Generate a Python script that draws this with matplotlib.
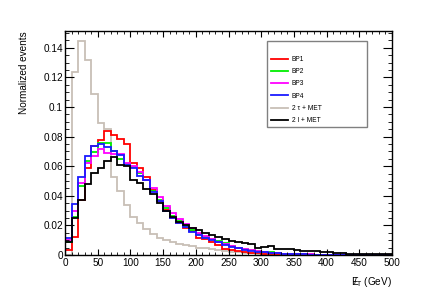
"""
MET distribution for the benchmark points and the two backgrounds,
normalized histograms in 10 GeV bins (ROOT-like style).
"""
import numpy as np
import matplotlib
matplotlib.use("Agg")
import matplotlib.pyplot as plt
from matplotlib.lines import Line2D
from matplotlib.patches import Rectangle
from matplotlib.ticker import MultipleLocator, FormatStrFormatter

plt.rcParams["font.family"] = ["Liberation Sans", "DejaVu Sans"]
plt.rcParams["mathtext.fontset"] = "custom"
plt.rcParams["mathtext.rm"] = "Liberation Sans"
plt.rcParams["mathtext.it"] = "Liberation Sans"

# bin edges, 0-500 GeV in 10 GeV steps
edges = np.arange(0, 510, 10)

bp1 = [0.0035, 0.0125, 0.0372, 0.0585, 0.0735, 0.0775, 0.0840, 0.0810, 0.0782, 0.0752,
       0.0622, 0.0588, 0.0528, 0.0440, 0.0365, 0.0305, 0.0250, 0.0218, 0.0185, 0.0160,
       0.0118, 0.0105, 0.0088, 0.0068, 0.0042, 0.0034, 0.0026, 0.0020, 0.0016, 0.0012,
       0.0010, 0.0008, 0.0006, 0.0005, 0.0004, 0.0003, 0.0003, 0.0002, 0.0002, 0.0002,
       0.0001, 0.0001, 0.0001, 0.0001, 0.0001, 0.0001, 0.0001, 0.0, 0.0, 0.0]
bp2 = [0.0085, 0.0255, 0.0467, 0.0635, 0.0698, 0.0757, 0.0760, 0.0700, 0.0650, 0.0618,
       0.0595, 0.0555, 0.0505, 0.0430, 0.0375, 0.0320, 0.0265, 0.0228, 0.0198, 0.0170,
       0.0140, 0.0122, 0.0108, 0.0092, 0.0080, 0.0060, 0.0050, 0.0042, 0.0034, 0.0027,
       0.0021, 0.0017, 0.0013, 0.0010, 0.0008, 0.0006, 0.0005, 0.0004, 0.0003, 0.0003,
       0.0002, 0.0002, 0.0001, 0.0001, 0.0001, 0.0001, 0.0001, 0.0, 0.0, 0.0]
bp3 = [0.0100, 0.0300, 0.0484, 0.0620, 0.0668, 0.0714, 0.0690, 0.0682, 0.0680, 0.0622,
       0.0600, 0.0560, 0.0510, 0.0450, 0.0390, 0.0330, 0.0282, 0.0240, 0.0210, 0.0180,
       0.0150, 0.0128, 0.0108, 0.0088, 0.0072, 0.0060, 0.0048, 0.0040, 0.0032, 0.0025,
       0.0020, 0.0016, 0.0012, 0.0009, 0.0007, 0.0006, 0.0005, 0.0004, 0.0003, 0.0002,
       0.0002, 0.0002, 0.0001, 0.0001, 0.0001, 0.0001, 0.0, 0.0, 0.0, 0.0]
bp4 = [0.0112, 0.0343, 0.0528, 0.0672, 0.0740, 0.0748, 0.0730, 0.0700, 0.0675, 0.0610,
       0.0585, 0.0535, 0.0505, 0.0428, 0.0367, 0.0295, 0.0250, 0.0215, 0.0188, 0.0158,
       0.0135, 0.0117, 0.0100, 0.0085, 0.0070, 0.0056, 0.0045, 0.0036, 0.0029, 0.0023,
       0.0018, 0.0014, 0.0011, 0.0008, 0.0006, 0.0005, 0.0004, 0.0003, 0.0002, 0.0002,
       0.0001, 0.0001, 0.0001, 0.0001, 0.0, 0.0, 0.0, 0.0, 0.0, 0.0]
tau_met = [0.0, 0.1234, 0.1448, 0.1318, 0.1090, 0.0895, 0.0850, 0.0528, 0.0430, 0.0335,
           0.0255, 0.0218, 0.0175, 0.0140, 0.0117, 0.0100, 0.0090, 0.0075, 0.0065, 0.0058,
           0.0050, 0.0044, 0.0038, 0.0032, 0.0026, 0.0022, 0.0018, 0.0015, 0.0012, 0.0010,
           0.0008, 0.0006, 0.0005, 0.0004, 0.0003, 0.0002, 0.0002, 0.0001, 0.0001, 0.0001,
           0.0, 0.0, 0.0, 0.0, 0.0, 0.0, 0.0, 0.0, 0.0, 0.0]
lep_met = [0.0085, 0.0248, 0.0375, 0.0480, 0.0555, 0.0590, 0.0635, 0.0665, 0.0610, 0.0600,
           0.0510, 0.0488, 0.0445, 0.0410, 0.0350, 0.0300, 0.0258, 0.0225, 0.0200, 0.0182,
           0.0168, 0.0150, 0.0135, 0.0122, 0.0108, 0.0097, 0.0085, 0.0078, 0.0072, 0.0050,
           0.0055, 0.0058, 0.0042, 0.0042, 0.0038, 0.0032, 0.0030, 0.0028, 0.0024, 0.0021,
           0.0017, 0.0015, 0.0012, 0.0010, 0.0009, 0.0007, 0.0006, 0.0006, 0.0005, 0.0004]

labels = ["BP1", "BP2", "BP3", "BP4", "2 τ + MET", "2 l + MET"]
colors = ["#ff0000", "#00ee00", "#ff00ff", "#1a1aff", "#c8bfb6", "#000000"]
series = [bp1, bp2, bp3, bp4, tau_met, lep_met]
draw_order = [4, 0, 1, 2, 3, 5]

fig = plt.figure(figsize=(4.36, 3.0), dpi=100)
ax = fig.add_axes([65 / 436, 45 / 300, 327 / 436, 224 / 300])

for i in draw_order:
    ax.stairs(series[i], edges, color=colors[i], lw=1.3)

ax.set_xlim(0, 500)
ax.set_ylim(0, 0.1514)
ax.xaxis.set_major_locator(MultipleLocator(50))
ax.xaxis.set_minor_locator(MultipleLocator(10))
ax.yaxis.set_major_locator(MultipleLocator(0.02))
ax.yaxis.set_minor_locator(MultipleLocator(0.005))
ax.yaxis.set_major_formatter(FormatStrFormatter("%g"))
ax.tick_params(which="both", direction="in", top=True, right=True, labelsize=7.2)
ax.tick_params(axis="x", which="major", length=4, pad=2)
ax.tick_params(axis="x", which="minor", length=2)
ax.tick_params(axis="y", which="major", length=6.5, pad=1.5)
ax.tick_params(axis="y", which="minor", length=3.2)
for sp in ax.spines.values():
    sp.set_linewidth(1.0)

ax.set_xlabel(r"$\mathrm{E}\!\!\!/_{\mathrm{T}}$ (GeV)", fontsize=7.2, loc="right")
ax.xaxis.set_label_coords(1.0, -0.09)
ax.set_ylabel("Normalized events", fontsize=7.2, loc="top")
ax.yaxis.set_label_coords(-0.11, 1.0)

# legend box drawn separately so it can keep the empty space on top
ax.add_patch(Rectangle((0.617, 0.573), 0.307, 0.382, transform=ax.transAxes,
                       fill=False, edgecolor="#808080", lw=1.0, zorder=5))
handles = [Line2D([], [], color=c, lw=1.3) for c in colors]
ax.legend(handles, labels, loc="upper left", bbox_to_anchor=(0.629, 0.888),
          frameon=False, fontsize=4.8, handlelength=2.64, handletextpad=0.5,
          labelspacing=0.78, borderpad=0, borderaxespad=0)

fig.savefig("out.png", dpi=100)
